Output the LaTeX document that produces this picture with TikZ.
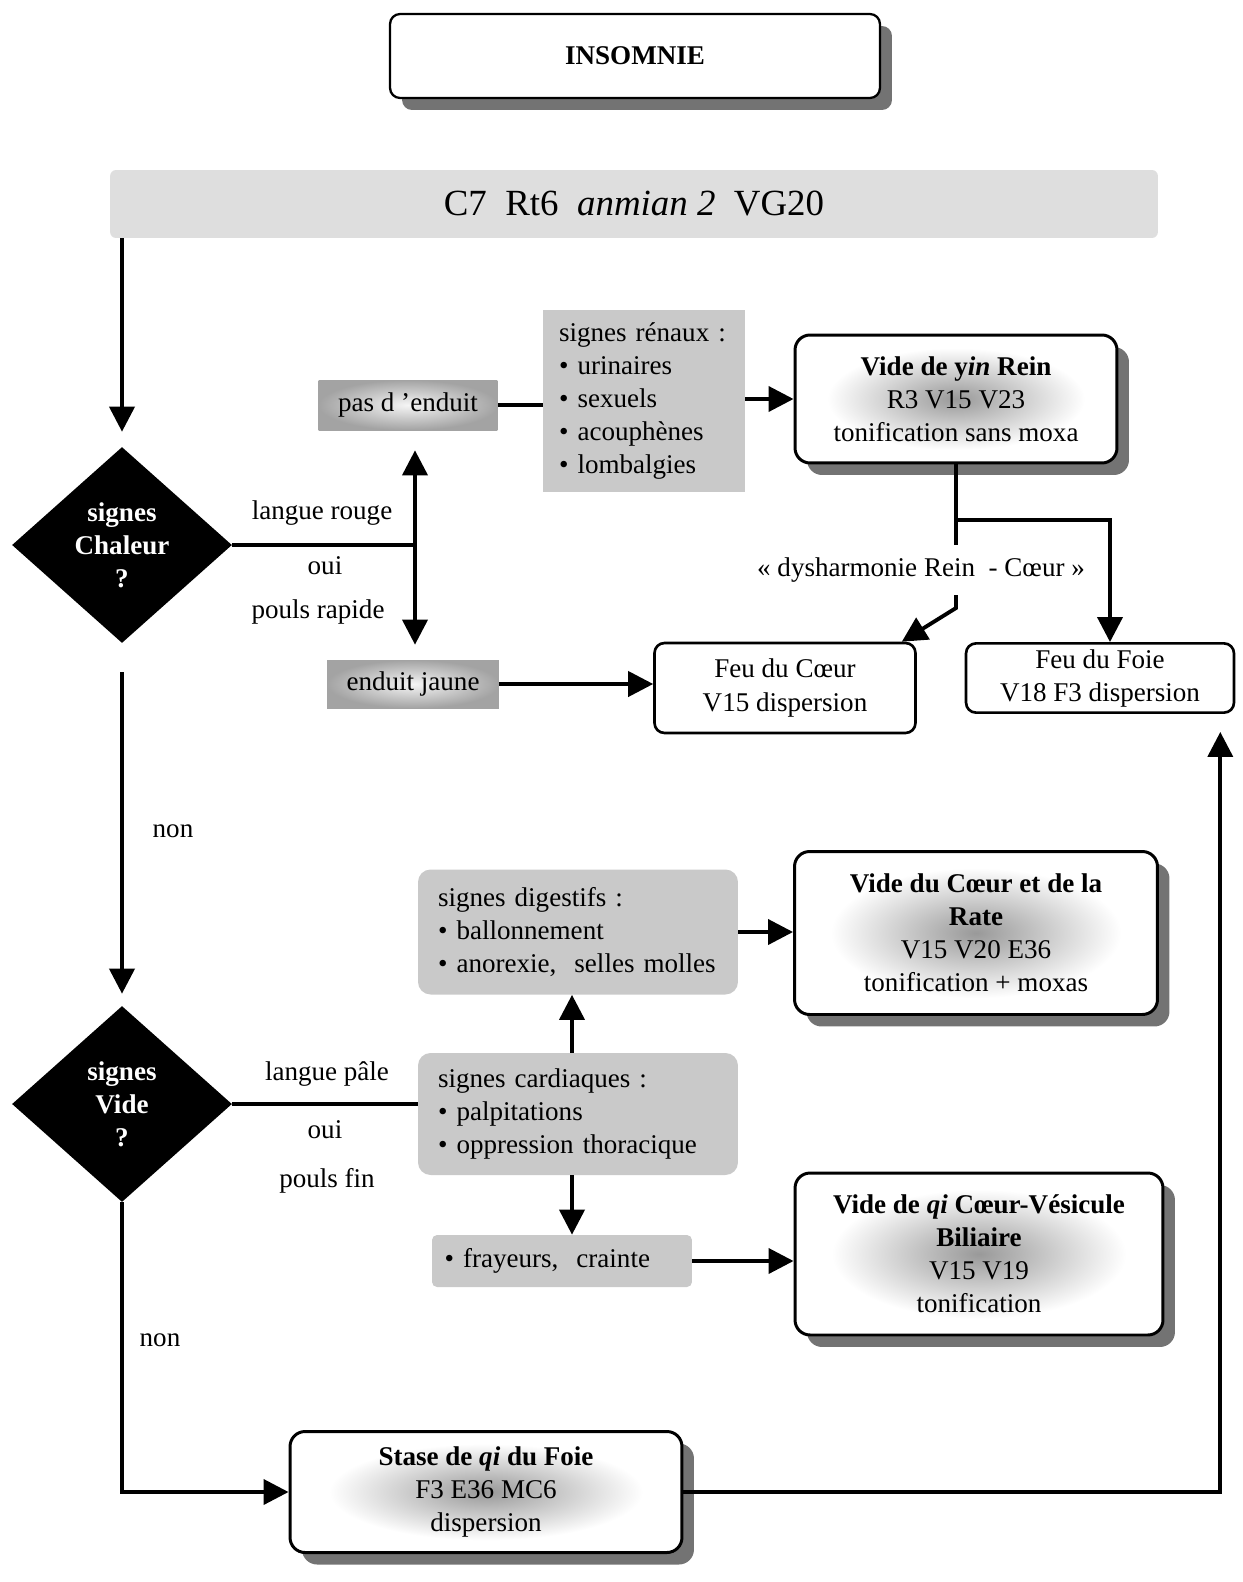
\documentclass[tikz,border=0pt]{standalone}
\usepackage{fontspec}
\setmainfont{Liberation Serif}
\usetikzlibrary{arrows.meta}
\usetikzlibrary{shapes.geometric}
\usetikzlibrary{shadows}

\pgfdeclareradialshading{cureshade}{\pgfpoint{0bp}{0bp}}{color(0bp)=(black!40); color(20bp)=(white); color(50bp)=(white)}
\pgfdeclareradialshading{tongueshade}{\pgfpoint{0bp}{0bp}}{color(0bp)=(black!4); color(25bp)=(black!36); color(50bp)=(black!36)}

\begin{document}
\begin{tikzpicture}[x=0.02cm,y=-0.02cm,
		every node/.style={font=\fontsize{15.4}{18.8}\selectfont},
		tip/.style={-{Triangle[length=0.5cm,width=0.5cm]}},
		arr/.style={line width=2.2pt,tip},
		ln/.style={line width=2.2pt},
		shade box/.style={drop shadow={shadow xshift=0.24cm,shadow yshift=-0.24cm,fill=black!55,opacity=1}},
		headbox/.style={draw,line width=1.3pt,rounded corners=0.2cm,fill=white,shade box},
		cure/.style={draw,line width=1.7pt,rounded corners=0.3cm,shading=cureshade,align=center,shade box},
		fire/.style={draw,line width=1.5pt,rounded corners=0.2cm,fill=white,align=center},
		sign/.style={fill=black!21,align=left,inner ysep=0pt},
		tongue/.style={shading=tongueshade},
		quest/.style={diamond,fill=black,text=white,align=center,inner sep=0pt,font=\fontsize{15.4}{18.8}\selectfont\bfseries},
		lbl/.style={inner sep=1pt}]
		\useasboundingbox (0,0) rectangle (1242,1582);
		
		\node[headbox,minimum width=9.8cm,minimum height=1.68cm] (insom) at (635,56) {\textbf{INSOMNIE}};
		\node[fill=black!13,rounded corners=0.12cm,minimum width=20.96cm,minimum height=1.36cm,font=\fontsize{21}{25}\selectfont] (base) at (634,204) {C7\ \ Rt6\ \ \textit{anmian 2}\ \ VG20};
		
		% chaleur
		\node[quest,minimum width=4.4cm,minimum height=3.92cm] (q1) at (122,545) {signes\\Chaleur\\?};
		\node[tongue,minimum width=3.58cm,minimum height=1cm] (nocoat) at (408,405) {pas d ’enduit};
		\node[tongue,minimum width=3.44cm,minimum height=0.96cm] (yellow) at (413,684) {enduit jaune};
		\node[sign,text width=3.4cm,inner xsep=0.32cm,minimum height=3.66cm] (renal) at (644,401) {signes rénaux :\\• urinaires\\• sexuels\\• acouphènes\\• lombalgies};
		\node[cure,minimum width=6.44cm,minimum height=2.56cm] (yin) at (956,399) {\textbf{Vide de y\textit{in} Rein}\\R3 V15 V23\\tonification sans moxa};
		\node[fire,minimum width=5.22cm,minimum height=1.8cm] (heartfire) at (785,688) {Feu du Cœur\\V15 dispersion};
		\node[fire,minimum width=5.36cm,minimum height=1.28cm] (liverfire) at (1100,678) {Feu du Foie\\V18 F3 dispersion};
		\node[lbl] (red) at (322,513) {langue rouge};
		\node[lbl] (yes1) at (325,566) {oui};
		\node[lbl] (fast) at (318,612) {pouls rapide};
		\node[lbl] (no1) at (173,831) {non};
		
		% vide
		\node[quest,minimum width=4.4cm,minimum height=3.92cm] (q2) at (122,1104) {signes\\Vide\\?};
		\node[sign,rounded corners=0.25cm,text width=5.6cm,inner xsep=0.4cm,minimum height=2.5cm] (digest) at (578,932) {signes digestifs :\\• ballonnement\\• anorexie,\ \ selles molles};
		\node[sign,rounded corners=0.25cm,text width=5.6cm,inner xsep=0.4cm,minimum height=2.44cm] (cardio) at (578,1114) {signes cardiaques :\\• palpitations\\• oppression thoracique};
		\node[sign,rounded corners=0.1cm,text width=4.7cm,inner xsep=0.25cm,minimum height=1.04cm] (fear) at (562,1261) {• frayeurs,\ \ crainte};
		\node[cure,minimum width=7.26cm,minimum height=3.26cm] (spleen) at (976,933) {\textbf{Vide du Cœur et de la}\\\textbf{Rate}\\V15 V20 E36\\tonification + moxas};
		\node[cure,minimum width=7.36cm,minimum height=3.24cm] (gall) at (979,1254) {\textbf{Vide de \textit{qi} Cœur-Vésicule}\\\textbf{Biliaire}\\V15 V19\\tonification};
		\node[cure,minimum width=7.84cm,minimum height=2.42cm] (stasis) at (486,1492) {\textbf{Stase de \textit{qi} du Foie}\\F3 E36 MC6\\dispersion};
		\node[lbl] (pale) at (327,1074) {langue pâle};
		\node[lbl] (yes2) at (325,1130) {oui};
		\node[lbl] (thin) at (327,1181) {pouls fin};
		\node[lbl] (no2) at (160,1340) {non};
		
		\coordinate (fork) at (415,545);
		\coordinate (split) at (956,520);
		
		\draw[arr,shorten >=0.3cm] (base.south -| q1.north) -- (q1.north);
		\draw[ln] (q1.east) -- (fork);
		\draw[ln,{Triangle[length=0.5cm,width=0.5cm]}-{Triangle[length=0.5cm,width=0.5cm]},shorten <=0.4cm,shorten >=0.3cm] (nocoat.south -| fork) -- (yellow.north -| fork);
		\draw[ln] (nocoat.east) -- (nocoat.east -| renal.west);
		\draw[arr] (renal.east |- yin.west) -- (yin.west);
		\draw[arr] (yellow.east) -- (yellow.east -| heartfire.west);
		\draw[ln] (yin.south) -- (split);
		\draw[arr] (split) -| ([xshift=0.2cm]liverfire.north);
		\draw[arr] (split) -- (956,608) -- ([xshift=-0.3cm]heartfire.north east);
		\draw[arr,shorten <=0.58cm,shorten >=0.24cm] (q1.south) -- (q2.north);
		
		\draw[ln] (q2.east) -- (q2.east -| cardio.west);
		\draw[arr] ([xshift=-0.12cm]cardio.north) -- ([xshift=-0.12cm]cardio.north |- digest.south);
		\draw[arr] ([xshift=-0.12cm]cardio.south) -- ([xshift=-0.12cm]cardio.south |- fear.north);
		\draw[arr] (digest.east) -- (digest.east -| spleen.west);
		\draw[arr] (fear.east) -- (fear.east -| gall.west);
		\draw[arr] (q2.south) |- (stasis.west);
		\draw[arr,shorten >=0.36cm] (stasis.east) -| ([xshift=-0.3cm]liverfire.south east);
		
		\node[fill=white,inner xsep=1pt,inner ysep=0.26cm] (dysh) at (921,570) {« dysharmonie Rein\ \ - Cœur »};
	\end{tikzpicture}
\end{document}
